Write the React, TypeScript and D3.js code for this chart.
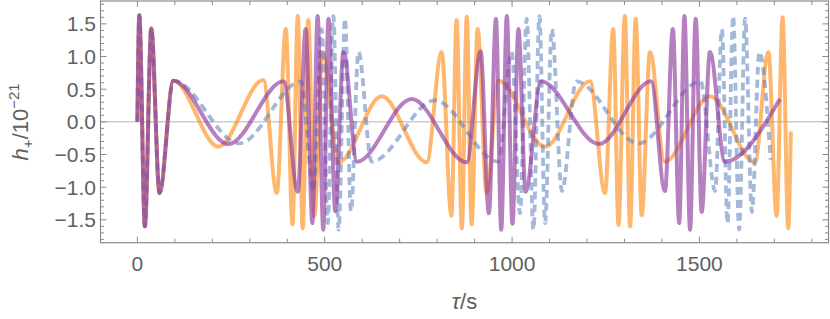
import React, { useEffect, useRef } from "react";
import * as d3 from "d3";

// waveform extrema: tau in s, h+ in units of 1e-21
const orangeTau = [0, 5, 20, 37, 59, 96, 216, 336, 372, 396, 414, 428, 441, 456, 472, 494, 537, 652, 772, 812, 838, 852, 866, 879, 892, 908, 932, 963, 1088, 1208, 1248, 1270, 1284, 1301, 1315, 1330, 1346, 1368, 1407, 1528, 1648, 1684, 1706, 1722, 1737, 1744];
const orangeH = [0, 1.63, -1.6, 1.43, -1.09, 0.63, -0.38, 0.64, -1.09, 1.42, -1.57, 1.62, -1.63, 1.56, -1.44, 1.07, -0.62, 0.39, -0.62, 1.07, -1.44, 1.56, -1.63, 1.61, -1.57, 1.42, -1.09, 0.63, -0.38, 0.62, -1.09, 1.42, -1.58, 1.62, -1.6, 1.58, -1.43, 1.07, -0.61, 0.39, -0.62, 1.07, -1.44, 1.6, -1.63, -0.15];

const blueTau = [0, 5, 20, 37, 59, 96, 272, 437, 470, 492, 508, 523, 537, 554, 570, 590, 625, 794, 963, 999, 1021, 1039, 1057, 1073, 1088, 1106, 1133, 1171, 1337, 1503, 1542, 1560, 1575, 1590, 1606, 1622, 1640, 1660, 1690];
const blueH = [0, 1.63, -1.6, 1.43, -1.09, 0.63, -0.33, 0.62, -1.06, 1.42, -1.55, 1.62, -1.65, 1.58, -1.37, 1.07, -0.61, 0.33, -0.61, 1.07, -1.4, 1.58, -1.65, 1.62, -1.55, 1.42, -1.06, 0.62, -0.33, 0.62, -1.06, 1.42, -1.55, 1.62, -1.65, 1.58, -1.38, 1.07, -0.58];

const purpleTau = [0, 5, 20, 37, 59, 96, 243, 390, 428, 449, 467, 481, 496, 510, 528, 550, 586, 732, 879, 916, 938, 957, 971, 986, 1001, 1017, 1036, 1077, 1232, 1371, 1408, 1429, 1446, 1460, 1475, 1490, 1506, 1528, 1568, 1715];
const purpleH = [0, 1.63, -1.6, 1.43, -1.09, 0.63, -0.34, 0.62, -1.07, 1.42, -1.55, 1.62, -1.65, 1.58, -1.37, 1.07, -0.61, 0.35, -0.62, 1.08, -1.4, 1.58, -1.65, 1.62, -1.56, 1.42, -1.07, 0.62, -0.34, 0.62, -1.06, 1.42, -1.55, 1.62, -1.65, 1.58, -1.38, 1.07, -0.61, 0.35];

const xLabels = [0, 500, 1000, 1500];
const yLabels = [-1.5, -1.0, -0.5, 0.0, 0.5, 1.0, 1.5];

export default function App() {
  const ref = useRef<SVGSVGElement>(null);

  useEffect(() => {
    const width = 830, height = 319;
    const left = 100.5, right = 828.5, top = 1, bottom = 242.7;
    const font = "'Liberation Sans', Arial, sans-serif";
    const gray = "#8a8a8a";
    const textGray = "#606060";

    const svg = d3.select(ref.current);
    svg.selectAll("*").remove();
    svg.attr("width", width).attr("height", height);

    const x = d3.scaleLinear().domain([-98.5, 1844.5]).range([left, right]);
    const y = d3.scaleLinear().domain([-1.85, 1.85]).range([bottom, top]);

    svg.append("defs").append("clipPath").attr("id", "plot")
      .append("rect").attr("x", left).attr("y", top)
      .attr("width", right - left).attr("height", bottom - top);

    // zero axis
    svg.append("line")
      .attr("x1", left).attr("x2", right)
      .attr("y1", y(0)).attr("y2", y(0))
      .attr("stroke", "#b4b4b4").attr("stroke-width", 1);

    const line = d3.line<[number, number]>()
      .x(d => x(d[0])).y(d => y(d[1]))
      .curve(d3.curveMonotoneX);

    const series = [
      { tau: orangeTau, h: orangeH, color: "#ff911e", opacity: 0.65, dash: null, w: 4 },
      { tau: blueTau, h: blueH, color: "#5a7db9", opacity: 0.55, dash: "8,5", w: 3.8 },
      { tau: purpleTau, h: purpleH, color: "#8f3a9e", opacity: 0.65, dash: null, w: 4 },
    ];

    const g = svg.append("g").attr("clip-path", "url(#plot)");
    series.forEach(s => {
      const pts = s.tau.map((t, i) => [t, s.h[i]] as [number, number]);
      g.append("path")
        .attr("d", line(pts))
        .attr("fill", "none")
        .attr("stroke", s.color)
        .attr("stroke-opacity", s.opacity)
        .attr("stroke-width", s.w)
        .attr("stroke-linejoin", "round")
        .attr("stroke-dasharray", s.dash);
    });

    // frame
    svg.append("rect")
      .attr("x", left).attr("y", top)
      .attr("width", right - left).attr("height", bottom - top)
      .attr("fill", "none").attr("stroke", gray).attr("stroke-width", 1.2);

    // ticks on all four sides, pointing inwards
    const ticks = svg.append("g").attr("stroke", gray).attr("stroke-width", 1);
    d3.range(0, 1801, 100).forEach(t => {
      const len = t % 500 === 0 ? 6 : 4;
      ticks.append("line").attr("x1", x(t)).attr("x2", x(t)).attr("y1", bottom).attr("y2", bottom - len);
      ticks.append("line").attr("x1", x(t)).attr("x2", x(t)).attr("y1", top).attr("y2", top + len);
    });
    d3.range(-18, 19).forEach(k => {
      const v = k / 10;
      const len = k % 5 === 0 ? 6 : 3.5;
      ticks.append("line").attr("x1", left).attr("x2", left + len).attr("y1", y(v)).attr("y2", y(v));
      ticks.append("line").attr("x1", right).attr("x2", right - len).attr("y1", y(v)).attr("y2", y(v));
    });

    const fmt = (v: number) => (v < 0 ? "\u2212" : "") + Math.abs(v).toFixed(1);

    svg.append("g").selectAll("text").data(yLabels).enter().append("text")
      .attr("x", 96).attr("y", d => y(d)).attr("dy", "0.36em")
      .attr("text-anchor", "end")
      .attr("font-family", font).attr("font-size", 21).attr("fill", textGray)
      .text(d => fmt(d));

    svg.append("g").selectAll("text").data(xLabels).enter().append("text")
      .attr("x", d => x(d)).attr("y", 271)
      .attr("text-anchor", "middle")
      .attr("font-family", font).attr("font-size", 21).attr("fill", textGray)
      .text(d => String(d));

    // axis titles
    const xt = svg.append("text")
      .attr("x", (left + right) / 2).attr("y", 309)
      .attr("text-anchor", "middle")
      .attr("font-family", font).attr("font-size", 22).attr("fill", textGray);
    xt.append("tspan").attr("font-style", "italic").text("\u03c4");
    xt.append("tspan").text("/s");

    const yt = svg.append("text")
      .attr("transform", `translate(28,${y(0)}) rotate(-90)`)
      .attr("text-anchor", "middle")
      .attr("font-family", font).attr("font-size", 22).attr("fill", textGray);
    yt.append("tspan").attr("font-style", "italic").text("h");
    yt.append("tspan").attr("font-size", 15).attr("dy", 5).text("+");
    yt.append("tspan").attr("dy", -5).text("/10");
    yt.append("tspan").attr("font-size", 15).attr("dy", -9).text("\u221221");
  }, []);

  return (
    <svg ref={ref} style={{ position: "absolute", left: 0, top: 0, display: "block" }} />
  );
}
